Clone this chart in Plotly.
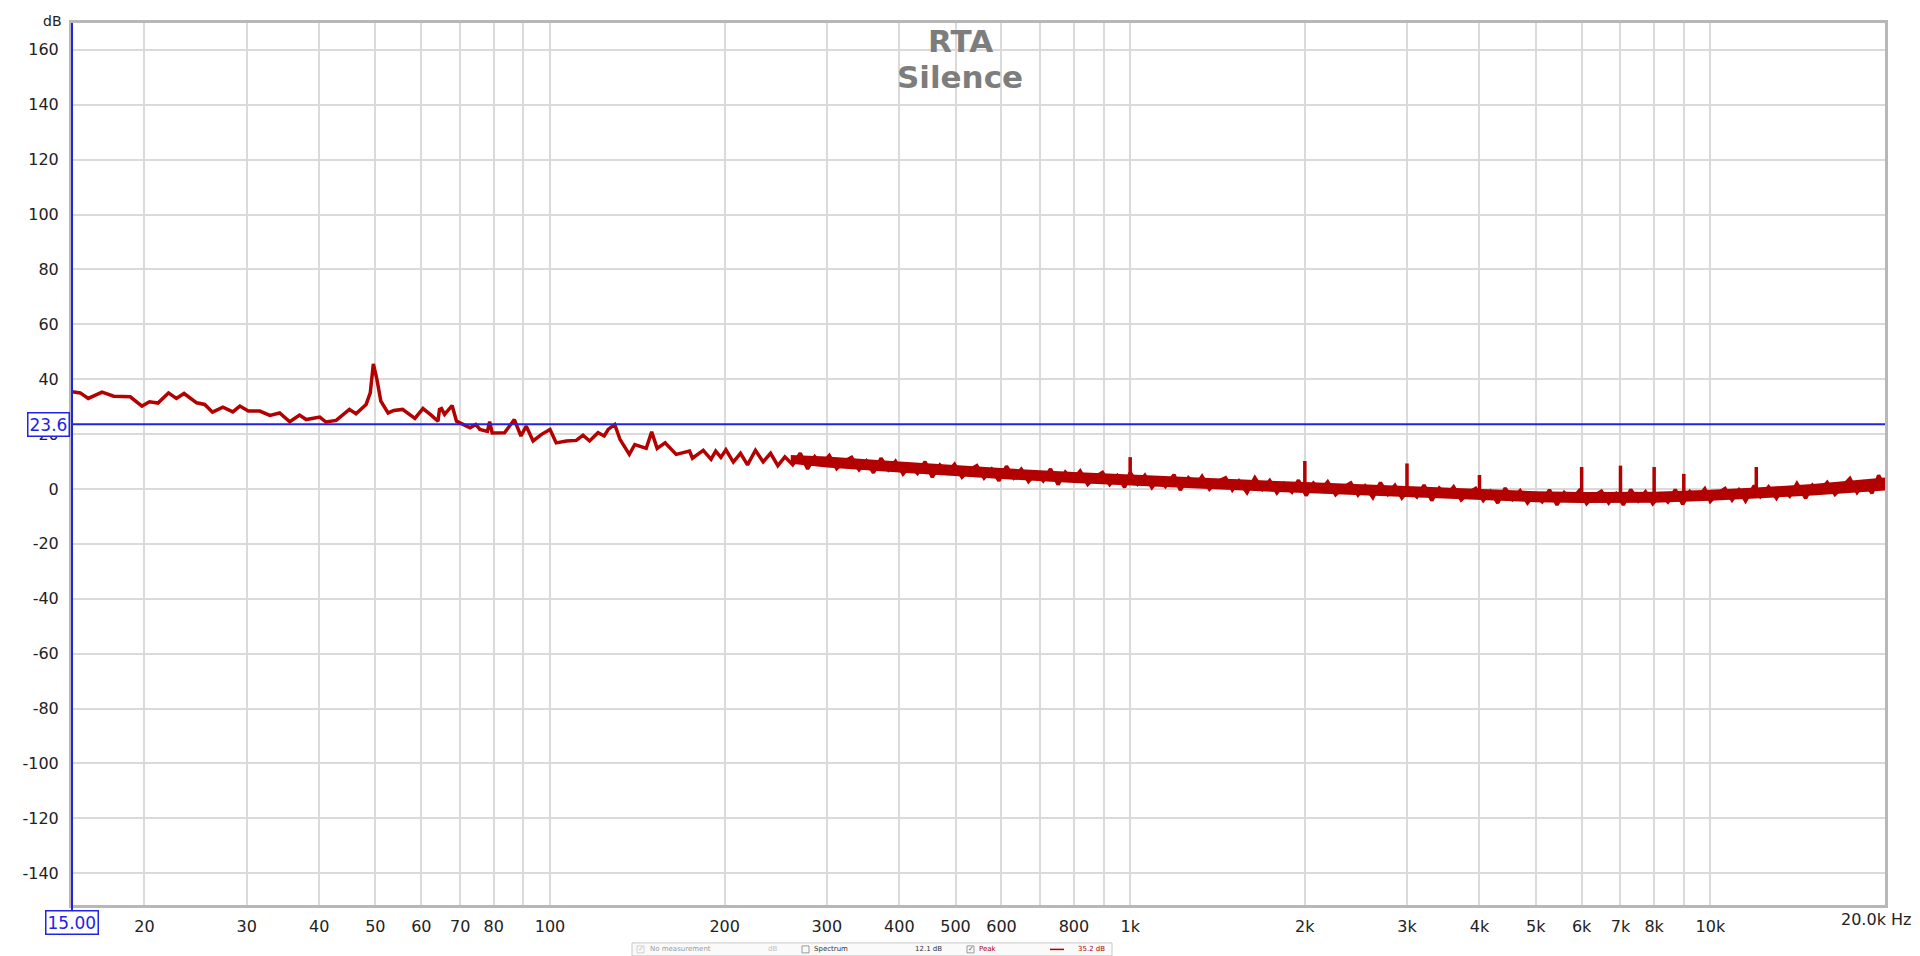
import plotly.graph_objects as go

# ---------------- data ----------------
LOW_HZ = [15.0, 15.5, 16.0, 16.9, 17.7, 18.9, 19.8, 20.4, 21.1, 22.0, 22.7, 23.4, 24.6, 25.4, 26.2,
          27.3, 28.4, 29.2, 30.2, 31.6, 32.9, 34.2, 35.6, 37.0, 38.0, 40.1, 41.1, 42.8, 45.1, 46.3,
          48.2, 49.0, 49.6, 50.3, 51.1, 52.6, 53.8, 55.7, 58.5, 60.4, 62.4, 64.1, 64.5, 65.0, 65.8,
          67.8, 69.0, 70.8, 72.8, 74.5, 75.7, 78.0, 78.7, 79.5, 80.8, 83.5, 86.8, 89.1, 91.0, 93.5,
          96.7, 100.0, 102.5, 106.7, 111.0, 114.0, 117.0, 121.0, 124.0, 126.0, 129.3, 132.0, 137.0,
          140.0, 146.5, 149.7, 153.0, 157.9, 165.0, 174.0, 176.0, 183.7, 189.5, 193.0, 197.0]
LOW_DB = [35.4, 35.0, 33.0, 35.3, 33.8, 33.6, 30.2, 31.8, 31.3, 35.0, 33.0, 34.8, 31.4, 30.8, 28.0,
          29.8, 28.1, 30.2, 28.4, 28.4, 26.8, 27.7, 24.5, 26.9, 25.3, 26.2, 24.4, 25.0, 29.0, 27.4,
          30.8, 35.0, 45.6, 40.0, 32.0, 27.7, 28.6, 29.0, 25.7, 29.3, 26.9, 24.7, 29.0, 29.3, 27.2,
          30.4, 24.7, 23.7, 22.3, 23.5, 21.7, 21.0, 24.5, 20.4, 20.5, 20.5, 25.3, 19.3, 22.9, 17.5,
          19.9, 21.7, 16.8, 17.5, 17.7, 19.6, 17.5, 20.5, 19.3, 21.7, 23.5, 18.1, 12.6,
          16.2, 14.8, 20.8, 14.8, 16.8, 12.6, 13.8, 11.2, 14.1, 10.8, 13.8, 11.5]

NOISE_HZ = [201, 207, 213, 219, 226, 233, 240, 247, 254, 262, 270, 278, 286, 294, 303, 312, 321, 331,
            341, 351, 361, 372, 383, 394, 406, 418, 430, 443, 456, 470, 484, 498, 513, 528, 544, 560,
            577, 594, 612, 630, 649, 668, 688, 708, 729, 751, 773, 796, 820, 845, 870, 896, 922, 950, 978,
            1000, 1030, 1060, 1090, 1120, 1150, 1190, 1220, 1260, 1300, 1330, 1370, 1410, 1460, 1500,
            1540, 1590, 1640, 1690, 1740, 1790, 1840, 1900, 1950, 2010, 2070, 2130, 2190, 2260, 2330,
            2400, 2470, 2540, 2620, 2700, 2780, 2860, 2940, 3030, 3120, 3210, 3310, 3410, 3510, 3610,
            3720, 3830, 3940, 4060, 4180, 4300, 4430, 4560, 4700, 4840, 4980, 5130, 5280, 5440, 5600,
            5770, 5940, 6120, 6300, 6490, 6680, 6880, 7080, 7290, 7510, 7730, 7960, 8200, 8450, 8700,
            8960, 9220, 9500, 9780,
            10000, 10300, 10600, 10900, 11200, 11500, 11900, 12200, 12600, 13000, 13300, 13700, 14100,
            14600, 15000, 15400, 15900, 16400, 16900, 17400, 17900, 18400, 19000, 19500, 20000]
NOISE_DB = [14.3, 9.8, 13.0, 8.8, 14.1, 9.9, 13.0, 8.5, 11.7, 8.8, 13.0, 7.3, 11.8, 9.0, 12.2, 7.4, 10.0, 11.5,
            7.0, 10.2, 5.9, 11.2, 7.0, 10.1, 5.5, 8.7, 5.7, 9.9, 4.3, 8.7, 5.9, 9.0, 4.3, 6.9, 8.5, 4.0,
            7.2, 3.0, 8.3, 4.1, 7.2, 2.7, 5.9, 3.0, 7.3, 1.6, 6.1, 3.3, 6.5, 1.7, 4.4, 6.0, 1.6, 4.8, 0.6,
            6.0, 1.8, 5.0, 0.5, 3.8, 0.9, 5.2, -0.4, 4.1, 1.4, 4.6, -0.1, 2.6, 4.1, -0.4,
            2.9, -1.3, 4.1, -0.1, 3.1, -1.4, 1.9, -1.1, 3.2, -2.4, 2.1, -0.6, 2.6, -2.1, 0.6,
            2.2, -2.2, 1.1, -3.1, 2.3, -1.9, 1.3, -3.3, 0.0, -2.9, 1.4, -4.2, 0.3, -2.4, 0.8,
            -4.0, -1.3, 0.2, -4.2, -0.9, -5.1, 0.3, -3.8, -0.6, -5.1, -1.8, -4.6, -0.3, -5.8, -1.3,
            -3.9, -0.7, -5.3, -2.5, -0.8, -5.1, -1.7, -5.8, -0.2, -4.3, -1.0, -5.4, -1.9, -4.7, -0.2,
            -5.6, -0.9, -3.4, 0.0,
            -4.5, -1.6, 0.2, -4.0, -0.4, -4.4, 1.2, -2.7, 0.8, -3.4, 0.1, -2.6, 2.0,
            -3.4, 1.4, -1.1, 2.4, -2.0, 1.0, 3.8, -1.2, 2.4, -1.5, 5.0, 0.5]

BAND_HZ = [260, 300, 400, 500, 600, 800, 1000, 1500, 2000, 3000, 4000, 5000, 6000, 8000, 10000, 12000, 15000, 20000]
BAND_TOP = [12.4, 11.8, 10.0, 8.6, 7.6, 6.2, 5.2, 3.6, 2.5, 1.0, -0.2, -0.8, -1.1, -1.0, -0.3, 0.5, 1.8, 4.2]
BAND_BOTTOM = [9.2, 7.8, 6.0, 4.6, 3.6, 2.2, 1.2, -0.4, -1.5, -3.0, -4.2, -4.8, -5.1, -5.0, -4.3, -3.5, -2.4, -0.6]

SPIKE_HZ = [1000, 2000, 3000, 4000, 6000, 7000, 8000, 9000, 12000]
SPIKE_BASE = [3.2, 0.5, -1.0, -2.2, -3.1, -3.1, -3.0, -2.7, -1.5]
SPIKE_TOP = [11.6, 10.2, 9.3, 5.1, 8.0, 8.5, 8.0, 5.5, 8.0]

CURSOR_DB = 23.6
CURSOR_HZ = 15.00

Y_TICKS = [-140, -120, -100, -80, -60, -40, -20, 0, 20, 40, 60, 80, 100, 120, 140, 160]
Y_LABELS = ["-140", "-120", "-100", "-80", "-60", "-40", "-20", "0", "20", "40", "60", "80",
            "100", "120", "140", "160"]
X_TICKS = [20, 30, 40, 50, 60, 70, 80, 90, 100, 200, 300, 400, 500, 600, 700, 800, 900,
           1000, 2000, 3000, 4000, 5000, 6000, 7000, 8000, 9000, 10000]
X_LABELS = ["20", "30", "40", "50", "60", "70", "80", "", "100", "200", "300", "400", "500", "600", "",
            "800", "", "1k", "2k", "3k", "4k", "5k", "6k", "7k", "8k", "", "10k"]

# ---------------- layout geometry (pixels, in screenshot coordinates) ----------------
OFF = 8                      # page body margin in the browser
W, H = 1920 - OFF, 956 - OFF
L, R, T, B = 72, 1885, 21, 905
PW, PH = R - L, B - T


def px(x):
    return (x - L) / PW


def py(y):
    return (B - y) / PH


RED = "#b30000"
BLUE = "#2323e6"
FONT = "DejaVu Sans"

fig = go.Figure()

# noise band fill
fig.add_trace(go.Scatter(x=BAND_HZ, y=BAND_TOP, mode="lines", line=dict(width=0, color=RED),
                         hoverinfo="skip", showlegend=False))
fig.add_trace(go.Scatter(x=BAND_HZ, y=BAND_BOTTOM, mode="lines", line=dict(width=0, color=RED),
                         fill="tonexty", fillcolor=RED, hoverinfo="skip", showlegend=False))

# main trace
fig.add_trace(go.Scatter(x=LOW_HZ + NOISE_HZ, y=LOW_DB + NOISE_DB, mode="lines",
                         line=dict(color=RED, width=3.5), showlegend=False))

# harmonic spikes
sx, sy = [], []
for f, b, t in zip(SPIKE_HZ, SPIKE_BASE, SPIKE_TOP):
    sx += [f, f, None]
    sy += [b, t, None]
fig.add_trace(go.Scatter(x=sx, y=sy, mode="lines", line=dict(color=RED, width=3.5), showlegend=False))

shapes = [
    dict(type="line", xref="paper", yref="y", x0=0, x1=1, y0=CURSOR_DB, y1=CURSOR_DB,
         line=dict(color=BLUE, width=2)),
    dict(type="line", xref="paper", yref="paper", x0=0, x1=0, y0=py(911), y1=1,
         line=dict(color=BLUE, width=2)),
    dict(type="rect", xref="paper", yref="paper", x0=px(632), x1=px(1112), y0=py(956), y1=py(943),
         line=dict(color="#c8c8c8", width=1), fillcolor="#fafafa"),
    dict(type="rect", xref="paper", yref="paper", x0=px(637), x1=px(644), y0=py(953), y1=py(946),
         line=dict(color="#d0d0d0", width=1)),
    dict(type="rect", xref="paper", yref="paper", x0=px(802), x1=px(809), y0=py(953), y1=py(946),
         line=dict(color="#9a9a9a", width=1)),
    dict(type="rect", xref="paper", yref="paper", x0=px(967), x1=px(974), y0=py(953), y1=py(946),
         line=dict(color="#9a9a9a", width=1)),
    dict(type="line", xref="paper", yref="paper", x0=px(1050), x1=px(1064), y0=py(949.5), y1=py(949.5),
         line=dict(color=RED, width=1.5)),
]

ann = [
    dict(text="<b>RTA</b>", x=px(960), y=py(39), xref="paper", yref="paper", showarrow=False,
         font=dict(family=FONT, size=31, color="#7d7d7d"), xanchor="center", yanchor="middle"),
    dict(text="<b>Silence</b>", x=px(960), y=py(75), xref="paper", yref="paper", showarrow=False,
         font=dict(family=FONT, size=31, color="#7d7d7d"), xanchor="center", yanchor="middle"),
    dict(text="dB", x=px(64), y=py(9), xref="paper", yref="paper", showarrow=False,
         font=dict(family=FONT, size=14, color="#222"), xanchor="right", yanchor="top"),
    dict(text="20.0k Hz", x=px(1913), y=py(920), xref="paper", yref="paper", showarrow=False,
         font=dict(family=FONT, size=16, color="#222"), xanchor="right", yanchor="middle"),
    dict(text=f"{CURSOR_DB:.1f}", x=px(70), y=CURSOR_DB, xref="paper", yref="y", showarrow=False,
         font=dict(family=FONT, size=17, color=BLUE), xanchor="right", yanchor="middle",
         bordercolor=BLUE, borderwidth=1.5, borderpad=1, bgcolor="white"),
    dict(text=f"{CURSOR_HZ:.2f}", x=0, y=py(922.5), xref="paper", yref="paper", showarrow=False,
         font=dict(family=FONT, size=17, color=BLUE), xanchor="center", yanchor="middle",
         bordercolor=BLUE, borderwidth=1.5, borderpad=1, bgcolor="white"),
]

leg_items = [
    ("✓", 640.5, "#c0c0c0", "center"),
    ("No measurement", 648, "#9a9a9a", "left"),
    ("dB", 772, "#c0c0c0", "center"),
    ("Spectrum", 812, "#333", "left"),
    ("12.1 dB", 928, "#333", "center"),
    ("✓", 970.5, "#666", "center"),
    ("Peak", 977, RED, "left"),
    ("35.2 dB", 1091, RED, "center"),
]
for txt, x, col, anc in leg_items:
    ann.append(dict(text=txt, x=px(x), y=py(949.5), xref="paper", yref="paper", showarrow=False,
                    font=dict(family=FONT, size=7, color=col), xanchor=anc, yanchor="middle"))

fig.update_layout(
    width=W, height=H,
    margin=dict(l=L - OFF, r=W - (R - OFF), t=T - OFF, b=H - (B - OFF), pad=0),
    paper_bgcolor="white", plot_bgcolor="white",
    shapes=shapes, annotations=ann, showlegend=False,
    xaxis=dict(type="log", range=[1.176091, 4.301030], tickvals=X_TICKS, ticktext=X_LABELS,
               showgrid=True, gridcolor="#dadada", gridwidth=2, zeroline=False,
               showline=True, linecolor="#b8b8b8", linewidth=3, mirror=True,
               ticks="", tickfont=dict(family=FONT, size=16, color="#222"), ticklabelstandoff=5),
    yaxis=dict(range=[-151.6, 169.8], tickvals=Y_TICKS, ticktext=Y_LABELS,
               showgrid=True, gridcolor="#dadada", gridwidth=2, zeroline=False,
               showline=True, linecolor="#b8b8b8", linewidth=3, mirror=True,
               ticks="", tickfont=dict(family=FONT, size=16, color="#222"), ticklabelstandoff=7),
)

fig.write_html("out.html")
